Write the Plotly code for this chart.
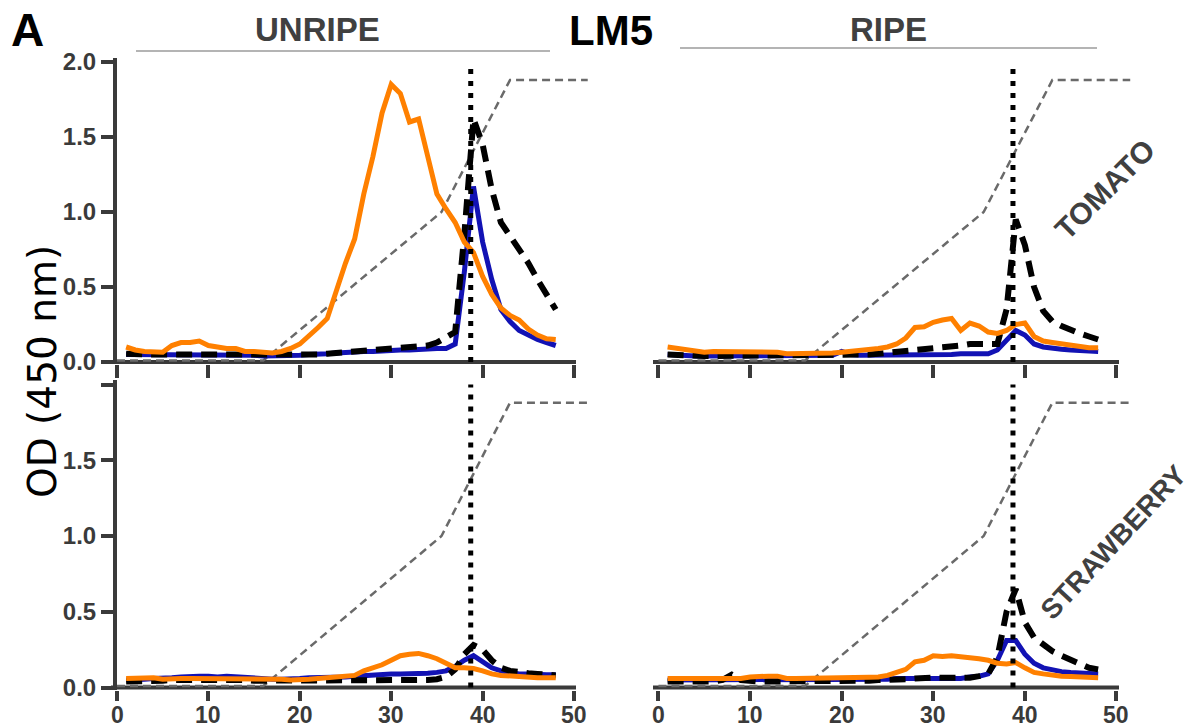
import plotly.graph_objects as go

# ---------------- data ----------------
fractions = list(range(1, 49))
x_ticks = [0, 10, 20, 30, 40, 50]
y_ticks = [0, 0.5, 1.0, 1.5, 2.0]
y_tick_labels_top = ["0.0", "0.5", "1.0", "1.5", "2.0"]
y_tick_labels_bottom = ["0.0", "0.5", "1.0", "1.5", ""]

gradient_x = [0, 16, 35.5, 43, 51.5]
gradient_y = [0.01, 0.01, 1.0, 1.88, 1.88]
marker_fraction = 38.7

# Unripe tomato
unripe_tomato_blue = [
    0.05, 0.05, 0.05, 0.05, 0.05, 0.05, 0.05, 0.05,
    0.05, 0.05, 0.05, 0.05, 0.05, 0.05, 0.045, 0.04,
    0.04, 0.04, 0.04, 0.045, 0.05, 0.05, 0.055, 0.06,
    0.065, 0.07, 0.07, 0.07, 0.075, 0.075, 0.08, 0.08,
    0.085, 0.085, 0.09, 0.09, 0.12, 0.60, 1.17, 0.80,
    0.55, 0.35, 0.27, 0.21, 0.18, 0.15, 0.13, 0.11]
unripe_tomato_black = [
    0.055, 0.05, 0.05, 0.05, 0.05, 0.05, 0.05, 0.05,
    0.05, 0.05, 0.05, 0.05, 0.05, 0.045, 0.045, 0.04,
    0.04, 0.04, 0.04, 0.045, 0.05, 0.05, 0.055, 0.06,
    0.065, 0.07, 0.07, 0.08, 0.08, 0.085, 0.09, 0.09,
    0.10, 0.11, 0.13, 0.16, 0.20, 0.85, 1.62, 1.45,
    1.15, 0.93, 0.84, 0.76, 0.66, 0.55, 0.44, 0.35]
unripe_tomato_orange = [
    0.10, 0.08, 0.07, 0.065, 0.065, 0.11, 0.13, 0.13,
    0.14, 0.11, 0.10, 0.09, 0.09, 0.07, 0.07, 0.065,
    0.06, 0.07, 0.09, 0.12, 0.17, 0.23, 0.29, 0.48,
    0.66, 0.82, 1.12, 1.37, 1.66, 1.85, 1.79, 1.60,
    1.62, 1.37, 1.12, 1.02, 0.93, 0.80, 0.73, 0.57,
    0.45, 0.36, 0.31, 0.28, 0.22, 0.18, 0.155, 0.15]

# Ripe tomato
ripe_tomato_blue = [
    0.05, 0.045, 0.04, 0.04, 0.04, 0.04, 0.04, 0.04,
    0.04, 0.04, 0.04, 0.04, 0.04, 0.04, 0.04, 0.04,
    0.04, 0.04, 0.045, 0.07, 0.05, 0.045, 0.045, 0.045,
    0.045, 0.045, 0.045, 0.05, 0.05, 0.05, 0.05, 0.05,
    0.055, 0.055, 0.055, 0.055, 0.08, 0.14, 0.21, 0.18,
    0.12, 0.10, 0.09, 0.085, 0.08, 0.075, 0.07, 0.07]
ripe_tomato_black = [
    0.05, 0.045, 0.04, 0.04, 0.04, 0.04, 0.04, 0.04,
    0.04, 0.04, 0.04, 0.04, 0.04, 0.04, 0.04, 0.04,
    0.04, 0.04, 0.04, 0.04, 0.045, 0.05, 0.05, 0.055,
    0.06, 0.065, 0.07, 0.075, 0.08, 0.085, 0.09, 0.10,
    0.11, 0.12, 0.12, 0.11, 0.12, 0.35, 0.95, 0.78,
    0.50, 0.34, 0.27, 0.24, 0.21, 0.19, 0.17, 0.15]
ripe_tomato_orange = [
    0.10, 0.09, 0.085, 0.07, 0.065, 0.07, 0.07, 0.065,
    0.065, 0.065, 0.065, 0.065, 0.065, 0.055, 0.055, 0.055,
    0.055, 0.055, 0.06, 0.065, 0.07, 0.075, 0.08, 0.09,
    0.10, 0.12, 0.16, 0.23, 0.235, 0.265, 0.28, 0.29,
    0.21, 0.26, 0.24, 0.20, 0.19, 0.21, 0.25, 0.26,
    0.17, 0.14, 0.13, 0.12, 0.11, 0.10, 0.095, 0.095]

# Unripe strawberry
unripe_strawberry_blue = [
    0.05, 0.05, 0.055, 0.06, 0.06, 0.065, 0.07, 0.075,
    0.075, 0.075, 0.07, 0.075, 0.07, 0.065, 0.06, 0.055,
    0.055, 0.055, 0.055, 0.06, 0.065, 0.065, 0.065, 0.065,
    0.07, 0.075, 0.08, 0.085, 0.09, 0.09, 0.09, 0.09,
    0.09, 0.095, 0.10, 0.11, 0.14, 0.18, 0.21, 0.17,
    0.13, 0.11, 0.10, 0.09, 0.09, 0.085, 0.085, 0.085]
unripe_strawberry_black = [
    0.04, 0.04, 0.04, 0.045, 0.045, 0.05, 0.05, 0.05,
    0.05, 0.05, 0.05, 0.055, 0.05, 0.05, 0.045, 0.045,
    0.045, 0.045, 0.045, 0.045, 0.045, 0.045, 0.045, 0.045,
    0.045, 0.045, 0.05, 0.05, 0.05, 0.05, 0.05, 0.05,
    0.05, 0.05, 0.055, 0.07, 0.12, 0.22, 0.28, 0.25,
    0.18, 0.13, 0.11, 0.10, 0.095, 0.09, 0.085, 0.08]
unripe_strawberry_orange = [
    0.06, 0.06, 0.06, 0.065, 0.055, 0.06, 0.06, 0.06,
    0.06, 0.06, 0.06, 0.06, 0.06, 0.06, 0.06, 0.06,
    0.055, 0.055, 0.05, 0.05, 0.055, 0.06, 0.065, 0.07,
    0.075, 0.08, 0.11, 0.13, 0.15, 0.18, 0.21, 0.22,
    0.225, 0.21, 0.19, 0.16, 0.13, 0.13, 0.125, 0.11,
    0.09, 0.08, 0.075, 0.07, 0.07, 0.065, 0.065, 0.065]

# Ripe strawberry
ripe_strawberry_blue = [
    0.05, 0.05, 0.05, 0.05, 0.05, 0.05, 0.05, 0.05,
    0.05, 0.05, 0.05, 0.05, 0.05, 0.05, 0.05, 0.05,
    0.05, 0.05, 0.05, 0.05, 0.05, 0.05, 0.055, 0.055,
    0.055, 0.06, 0.06, 0.06, 0.06, 0.06, 0.06, 0.06,
    0.06, 0.07, 0.075, 0.09, 0.18, 0.31, 0.31, 0.22,
    0.16, 0.13, 0.115, 0.105, 0.10, 0.095, 0.09, 0.09]
ripe_strawberry_black = [
    0.04, 0.04, 0.04, 0.04, 0.04, 0.04, 0.05, 0.085,
    0.05, 0.04, 0.04, 0.04, 0.04, 0.04, 0.04, 0.04,
    0.04, 0.04, 0.04, 0.04, 0.045, 0.045, 0.045, 0.05,
    0.05, 0.05, 0.055, 0.06, 0.065, 0.065, 0.065, 0.065,
    0.065, 0.065, 0.075, 0.09, 0.20, 0.50, 0.65, 0.43,
    0.33, 0.28, 0.24, 0.21, 0.18, 0.15, 0.13, 0.12]
ripe_strawberry_orange = [
    0.06, 0.06, 0.06, 0.06, 0.065, 0.065, 0.06, 0.06,
    0.06, 0.07, 0.075, 0.075, 0.075, 0.06, 0.06, 0.06,
    0.06, 0.06, 0.06, 0.06, 0.062, 0.065, 0.068, 0.07,
    0.08, 0.10, 0.12, 0.17, 0.18, 0.21, 0.205, 0.21,
    0.205, 0.20, 0.19, 0.18, 0.16, 0.155, 0.165, 0.13,
    0.10, 0.09, 0.08, 0.075, 0.072, 0.07, 0.068, 0.065]

# ---------------- styling / layout ----------------
W, H = 1197, 728
AX = "#3a3a3a"
BLUE = "#1212b4"
ORANGE = "#ff8000"
GRAY = "#6a6a6a"
FONT = "Liberation Sans"


def fx(px):
    return px / W


def fy(py):
    return 1 - py / H


panels = [
    # (xaxis id, yaxis id, series, x range, x px domain, y px domain)
    ("x", "y", (unripe_tomato_blue, unripe_tomato_black, unripe_tomato_orange),
     [0, 52], (117, 592.3), (57.5, 364.25)),
    ("x2", "y2", (ripe_tomato_blue, ripe_tomato_black, ripe_tomato_orange),
     [-1, 52], (649.3, 1134.8), (57.5, 364.25)),
    ("x3", "y3", (unripe_strawberry_blue, unripe_strawberry_black, unripe_strawberry_orange),
     [0, 52], (117, 592.3), (380.0, 689.8)),
    ("x4", "y4", (ripe_strawberry_blue, ripe_strawberry_black, ripe_strawberry_orange),
     [-1, 52], (649.3, 1134.8), (380.0, 689.8)),
]

fig = go.Figure()
layout = dict(
    width=W, height=H, margin=dict(l=0, r=0, t=0, b=0, pad=0), autosize=False,
    paper_bgcolor="white", plot_bgcolor="white", showlegend=False,
    template="none",
)

annotations = []

for i, (xa, ya, (blue, black, orange), xr, xdom, ydom) in enumerate(panels):
    fig.add_trace(go.Scatter(x=gradient_x, y=gradient_y, mode="lines", xaxis=xa, yaxis=ya,
                             line=dict(color=GRAY, width=2.5, dash="8px,5px")))
    fig.add_trace(go.Scatter(x=fractions, y=blue, mode="lines", xaxis=xa, yaxis=ya,
                             line=dict(color=BLUE, width=5)))
    fig.add_trace(go.Scatter(x=fractions, y=black, mode="lines", xaxis=xa, yaxis=ya,
                             line=dict(color="black", width=6, dash="16px,9px")))
    fig.add_trace(go.Scatter(x=fractions, y=orange, mode="lines", xaxis=xa, yaxis=ya,
                             line=dict(color=ORANGE, width=5)))
    fig.add_trace(go.Scatter(x=[marker_fraction, marker_fraction], y=[0, 2.0], mode="lines",
                             xaxis=xa, yaxis=ya,
                             line=dict(color="black", width=5, dash="5px,7px")))

    is_left = i in (0, 2)
    is_bottom = i in (2, 3)
    xkey = "xaxis" if xa == "x" else "xaxis" + xa[1:]
    ykey = "yaxis" if ya == "y" else "yaxis" + ya[1:]
    layout[xkey] = dict(
        domain=[fx(xdom[0]), fx(xdom[1])], range=xr, anchor=ya, automargin=False,
        showgrid=False, zeroline=False, showline=False,
        tickmode="array", tickvals=x_ticks,
        ticks="outside", ticklen=10 if is_bottom else 13, tickwidth=4, tickcolor=AX,
        showticklabels=False,
    )
    if is_bottom:
        # x tick labels placed just under the tick marks
        for t in x_ticks:
            annotations.append(dict(
                text=str(t), x=t, xref=xa, y=fy(715), yref="paper",
                xanchor="center", yanchor="middle", showarrow=False,
                font=dict(family=FONT, size=23, color=AX, weight="bold")))
    if is_left:
        layout[ykey] = dict(
            domain=[fy(ydom[1]), fy(ydom[0])], range=[-0.015, 2.03], anchor=xa,
            automargin=False,
            showgrid=False, zeroline=False, showline=True, linecolor=AX, linewidth=4,
            tickmode="array", tickvals=y_ticks,
            ticktext=y_tick_labels_bottom if is_bottom else y_tick_labels_top,
            ticks="outside", ticklen=12, tickwidth=4, tickcolor=AX,
            tickfont=dict(family=FONT, size=24, color=AX, weight="bold"),
        )
    else:
        layout[ykey] = dict(
            domain=[fy(ydom[1]), fy(ydom[0])], range=[-0.015, 2.03], anchor=xa,
            automargin=False,
            showgrid=False, zeroline=False, showline=False, showticklabels=False, ticks="",
        )

fig.update_layout(**layout)

# x-axis baselines (drawn as lines so they can stop at 50 while traces run past it)
shapes = []
for (x0, x1, y0) in [(111, 576, 362), (653, 1119, 362), (111, 576, 687.5), (653, 1119, 687.5)]:
    shapes.append(dict(type="line", xref="paper", yref="paper",
                       x0=fx(x0), x1=fx(x1), y0=fy(y0), y1=fy(y0),
                       line=dict(color=AX, width=4), layer="below"))
# header rules
shapes.append(dict(type="line", xref="paper", yref="paper", x0=fx(136), x1=fx(550),
                   y0=fy(51), y1=fy(51), line=dict(color="#b4b4b4", width=2)))
shapes.append(dict(type="line", xref="paper", yref="paper", x0=fx(680), x1=fx(1097),
                   y0=fy(48), y1=fy(48), line=dict(color="#b4b4b4", width=2)))
fig.update_layout(shapes=shapes)


def ann(text, px, py, size, color, angle=0, family=FONT, bold=True):
    return dict(text=text, x=fx(px), y=fy(py), xref="paper", yref="paper",
                xanchor="center", yanchor="middle", showarrow=False, textangle=angle,
                font=dict(family=family, size=size, color=color,
                          weight="bold" if bold else "normal"))


annotations += [
    ann("A", 27, 30, 46, "black"),
    ann("UNRIPE", 317, 30, 33, "#404040"),
    ann("LM5", 611, 31, 42, "black"),
    ann("RIPE", 888, 30, 33, "#404040"),
    ann("TOMATO", 1105, 190, 30, "#404040", angle=-45),
    ann("STRAWBERRY", 1113, 542, 28, "#404040", angle=-47),
    ann("OD (450 nm)", 42, 372, 39, "black", angle=-90, family="DejaVu Sans", bold=False),
]
fig.update_layout(annotations=annotations)

fig.write_html(
    "out.html",
    config={"displayModeBar": False},
    post_script="document.body.style.margin='0px';document.body.style.overflow='hidden';",
)
